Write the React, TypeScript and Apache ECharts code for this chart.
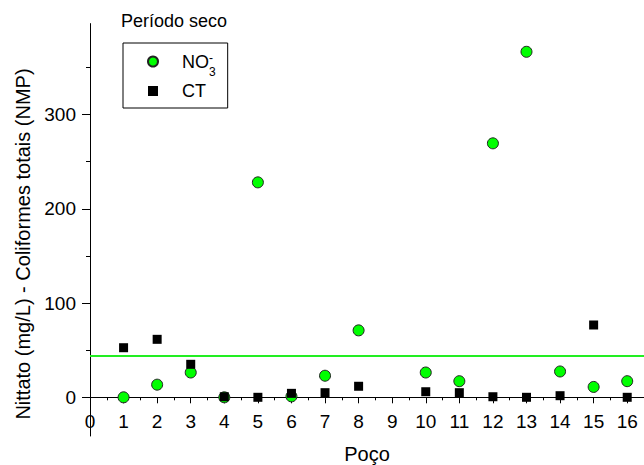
import React, { useEffect, useRef } from "react";
import * as echarts from "echarts";

const wells = [1, 2, 3, 4, 5, 6, 7, 8, 9, 10, 11, 12, 13, 14, 15, 16];
const no3 = [0, 13.4, 26.3, 0, 228, 1, 22.9, 71, null, 26.3, 17.1, 269.4, 366.5, 27.4, 11, 17.1];
const ct = [52.6, 61.5, 35, 0.6, 0, 4.2, 4.9, 11.7, null, 5.9, 4.9, 0.6, 0, 1.7, 76.7, 0];
const limit = 44;
const xTicks = [0, 1, 2, 3, 4, 5, 6, 7, 8, 9, 10, 11, 12, 13, 14, 15, 16];
const xMinor = [0.5, 1.5, 2.5, 3.5, 4.5, 5.5, 6.5, 7.5, 8.5, 9.5, 10.5, 11.5, 12.5, 13.5, 14.5, 15.5];
const yTicks = [0, 100, 200, 300];
const yMinor = [50, 150, 250, 350];

const FONT = "'Liberation Sans', Arial, sans-serif";

export default function App() {
  const ref = useRef<HTMLDivElement>(null);
  useEffect(() => {
    if (!ref.current) return;
    const chart = echarts.init(ref.current, null, { renderer: "svg" });
    const pairs = (vals: (number | null)[]) =>
      wells.map((w, i) => [w, vals[i]]).filter((p) => p[1] !== null);
    const axisLine = { show: true, onZero: false, lineStyle: { color: "#000", width: 1 } };
    const X_MAX = 16.5;
    const Y_MAX = 396;
    chart.setOption({
      animation: false,
      backgroundColor: "#fff",
      textStyle: { fontFamily: FONT },
      title: {
        text: "Período seco",
        left: 121,
        top: 12,
        padding: 0,
        textStyle: { fontSize: 18, fontWeight: "normal", color: "#000", fontFamily: FONT },
      },
      legend: {
        orient: "vertical",
        left: 123,
        top: 43,
        padding: [2, 12, 8, 24],
        itemGap: 4,
        itemWidth: 10,
        itemHeight: 10,
        borderColor: "#000",
        borderWidth: 1,
        borderRadius: 0,
        selectedMode: false,
        data: [
          { name: "NO3-", icon: "circle" },
          { name: "CT", icon: "path://M0 0H9V9H0Z" },
        ],
        formatter: (name: string) => (name === "NO3-" ? "{b|NO}{p|-}{s|3}" : "{b|CT}"),
        textStyle: {
          color: "#000",
          fontFamily: FONT,
          fontSize: 18,
          rich: {
            b: { fontSize: 18, lineHeight: 22, padding: [0, 0, 0, 19], color: "#000", fontFamily: FONT },
            p: { fontSize: 12, lineHeight: 12, width: 0, padding: [6.5, 0, 14.5, 0], color: "#000", fontFamily: FONT },
            s: { fontSize: 12, lineHeight: 12, padding: [21, 0, 0, 0], color: "#000", fontFamily: FONT },
          },
        },
      },
      grid: [
        { left: 90, right: 0, top: 24, bottom: 67.7, containLabel: false, outerBoundsMode: "none" },
        { left: 90, right: 0, top: 24, bottom: 29, containLabel: false, outerBoundsMode: "none" },
      ],
      xAxis: [
        {
          type: "value",
          gridIndex: 0,
          min: 0,
          max: X_MAX,
          position: "bottom",
          name: "Poço",
          nameLocation: "middle",
          nameGap: 47,
          nameTextStyle: { fontSize: 20, color: "#000", fontFamily: FONT },
          axisLine,
          axisTick: { show: true, customValues: xTicks, length: 6, lineStyle: { color: "#000" } },
          axisLabel: { show: true, customValues: xTicks, fontSize: 19, color: "#000", margin: 15, fontFamily: FONT },
          splitLine: { show: false },
        },
        {
          type: "value",
          gridIndex: 0,
          min: 0,
          max: X_MAX,
          position: "bottom",
          axisLine,
          axisTick: { show: true, customValues: xMinor, length: 3, lineStyle: { color: "#000" } },
          axisLabel: { show: false },
          splitLine: { show: false },
        },
        {
          type: "value",
          gridIndex: 1,
          min: 0,
          max: X_MAX,
          show: false,
        },
      ],
      yAxis: [
        {
          type: "value",
          gridIndex: 0,
          min: 0,
          max: Y_MAX,
          position: "left",
          axisLine,
          axisTick: { show: true, customValues: yTicks, length: 8, lineStyle: { color: "#000" } },
          axisLabel: { show: true, customValues: yTicks, fontSize: 19, color: "#000", margin: 14, fontFamily: FONT },
          splitLine: { show: false },
        },
        {
          type: "value",
          gridIndex: 0,
          min: 0,
          max: Y_MAX,
          position: "left",
          axisLine,
          axisTick: { show: true, customValues: yMinor, length: 4, lineStyle: { color: "#000" } },
          axisLabel: { show: false },
          splitLine: { show: false },
        },
        {
          type: "value",
          gridIndex: 1,
          min: -41,
          max: Y_MAX,
          position: "left",
          name: "Nittato (mg/L) - Coliformes totais (NMP)",
          nameLocation: "middle",
          nameRotate: 90,
          nameGap: 57,
          nameTextStyle: { fontSize: 20, color: "#000", fontFamily: FONT, padding: [0, 28, 0, 0] },
          axisLine,
          axisTick: { show: false },
          axisLabel: { show: false },
          splitLine: { show: false },
        },
      ],
      series: [
        {
          name: "NO3-",
          type: "scatter",
          xAxisIndex: 0,
          yAxisIndex: 0,
          symbol: "circle",
          symbolSize: 11,
          clip: false,
          itemStyle: { color: "#00ff00", borderColor: "#222", borderWidth: 1, opacity: 1 },
          data: pairs(no3),
          z: 2,
          markLine: {
            silent: true,
            symbol: ["none", "none"],
            label: { show: false },
            lineStyle: { color: "#22ee22", width: 2, type: "solid" },
            emphasis: { disabled: true },
            data: [{ yAxis: limit }],
          },
        },
        {
          name: "CT",
          type: "scatter",
          xAxisIndex: 0,
          yAxisIndex: 0,
          symbol: "rect",
          symbolSize: 9,
          clip: false,
          itemStyle: { color: "#000", opacity: 1 },
          data: pairs(ct),
          z: 3,
        },
      ],
    });
    return () => chart.dispose();
  }, []);
  return (
    <div
      ref={ref}
      style={{ position: "fixed", left: 0, top: 0, width: 644, height: 465, background: "#fff" }}
    />
  );
}
